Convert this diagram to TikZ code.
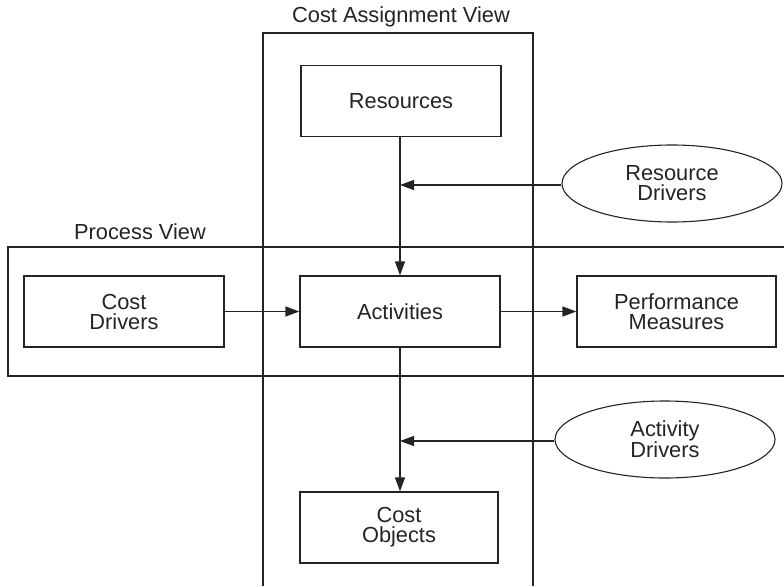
\documentclass[tikz,border=0pt]{standalone}
\usepackage{fontspec}
\setmainfont{Liberation Sans}
\usetikzlibrary{arrows.meta,shapes.geometric}
\definecolor{ink}{RGB}{35,35,40}
\begin{document}
\begin{tikzpicture}[x=1pt,y=-1pt,
  every node/.style={text=ink, font=\fontsize{21.8}{20}\selectfont, align=center},
  boxnode/.style={draw=ink, line width=1.3pt, rectangle, inner sep=0pt, minimum width=200pt, minimum height=71pt},
  ellnode/.style={draw=ink, line width=1.1pt, ellipse, inner sep=0pt, minimum width=220pt, minimum height=77pt},
  frame/.style={draw=ink, line width=1.3pt},
  conn/.style={draw=ink, line width=1.3pt, -{Triangle[length=14pt,width=10pt]}}]
\useasboundingbox (0,0) rectangle (784,586);
% view frames
\draw[frame] (263,586) -- (263,33) -- (533,33) -- (533,586);
\draw[frame] (784,247) -- (8,247) -- (8,376) -- (784,376);
\node (cavt) at (401,17) {Cost Assignment View};
\node (pvt) at (140,232) {Process View};
% boxes
\node[boxnode] (res) at (401,101) {Resources};
\node[boxnode] (act) at (400,311.5) {Activities};
\node[boxnode] (cd) at (124,311.5) {Cost\\Drivers};
\node[boxnode, minimum width=199pt] (pm) at (676.5,311.5) {Performance\\Measures};
\node[boxnode, minimum width=198pt] (co) at (399,527.5) {Cost\\Objects};
% ellipses
\node[ellnode] (rd) at (672,183.5) {Resource\\Drivers};
\node[ellnode] (ad) at (665,439.5) {Activity\\Drivers};
% junction points
\coordinate (j1) at (400,185);
\coordinate (j2) at (400,441);
% connectors
\draw[conn] (res.south -| act.north) -- (act.north);
\draw[conn] (act.south) -- (act.south |- co.north);
\draw[conn] (rd.west |- j1) -- (j1);
\draw[conn] (ad.west |- j2) -- (j2);
\draw[conn] (cd.east) -- (act.west);
\draw[conn] (act.east) -- (pm.west);
\end{tikzpicture}
\end{document}
